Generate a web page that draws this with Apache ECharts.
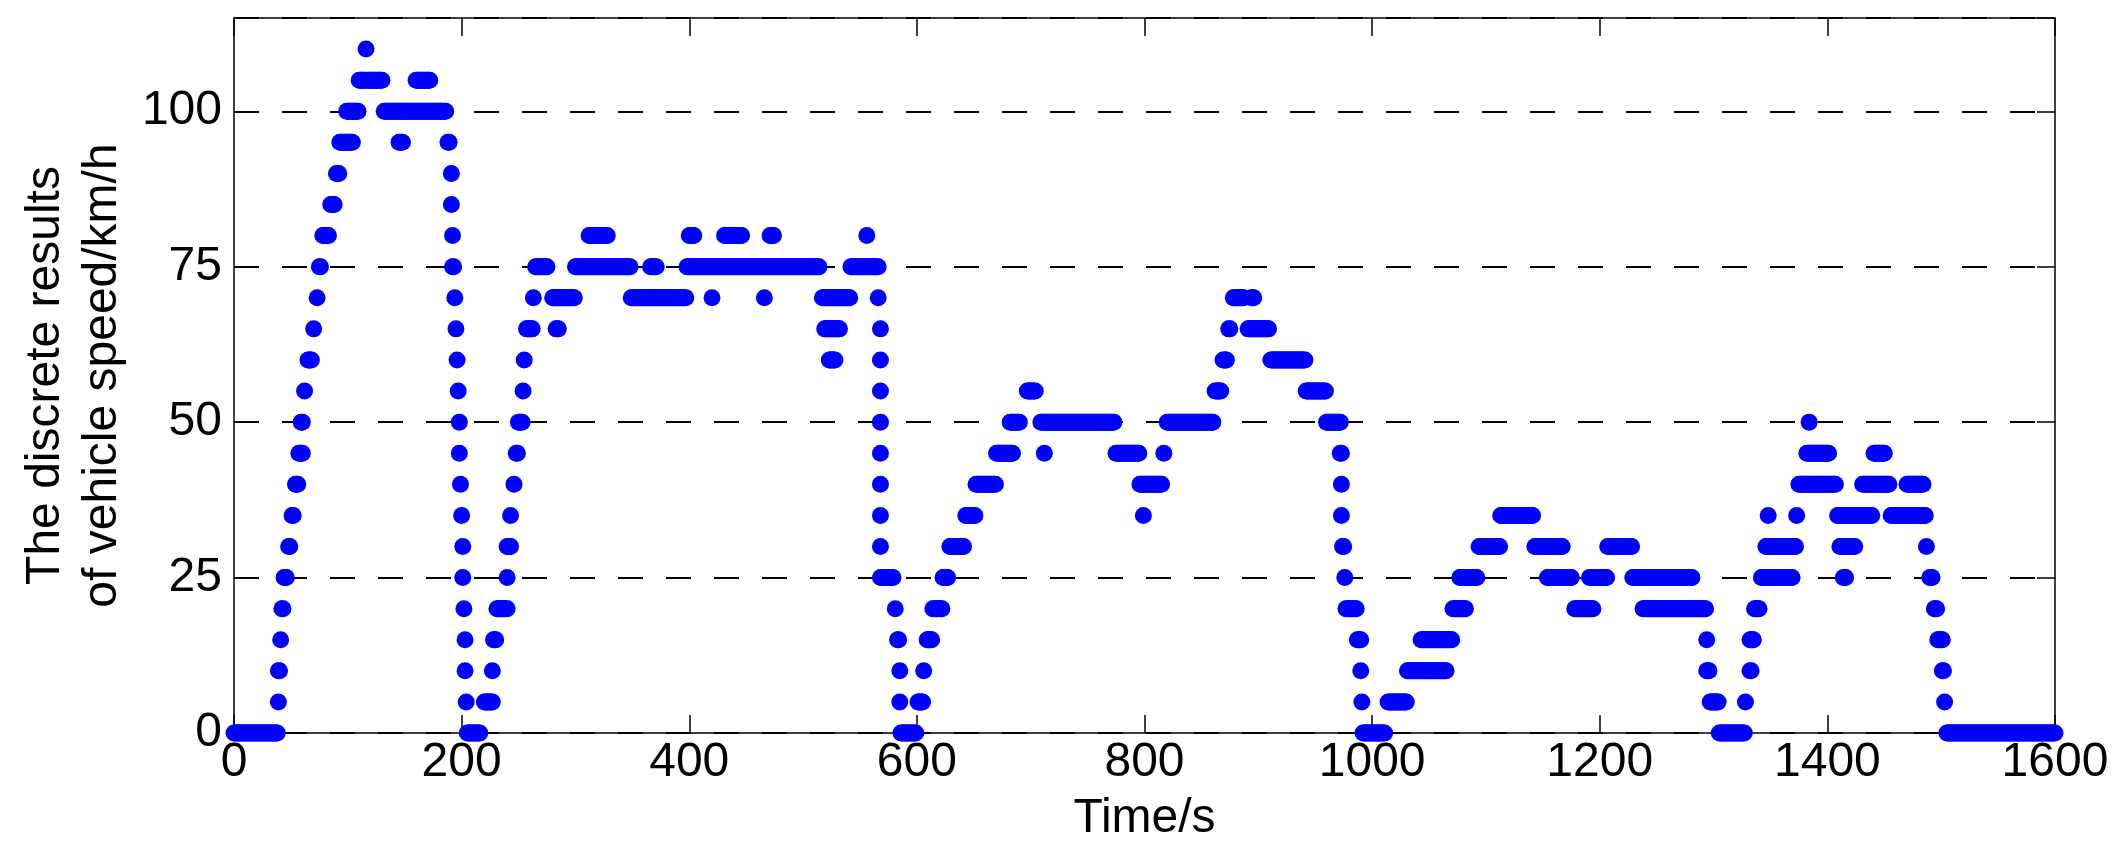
<!DOCTYPE html>
<html>
<head>
<meta charset="utf-8">
<script src="https://cdn.jsdelivr.net/npm/echarts@6/dist/echarts.min.js"></script>
<style>
html,body{margin:0;padding:0;background:#fff;}
#chart{width:2117px;height:859px;}
</style>
</head>
<body>
<div id="chart"></div>
<script>
// Runs of constant discrete speed (1 s sampling)
const runStart = [0,39,39,41,42,44,48,51,54,57,59,62,65,70,73,75,78,85,90,93,99,110,116,117,132,145,160,188,191,191,192,192,194,195,196,197,198,198,199,200,201,201,202,203,203,204,205,220,227,228,231,240,240,243,246,248,250,254,255,257,263,265,280,283,300,312,349,366,398,400,420,431,466,471,517,519,523,542,556,566,568,568,568,568,568,568,568,568,568,581,583,585,585,586,601,606,609,614,623,629,643,652,670,682,697,709,712,775,796,799,817,820,862,869,874,878,891,894,911,942,960,972,973,973,974,976,977,987,990,991,992,1014,1031,1043,1071,1077,1094,1113,1143,1154,1178,1191,1207,1229,1238,1294,1294,1297,1305,1328,1332,1332,1336,1342,1346,1348,1373,1375,1382,1384,1409,1411,1414,1431,1441,1456,1470,1487,1490,1494,1497,1501,1503,1505];
const runEnd   = [38,39,40,41,43,46,49,52,56,60,60,62,68,70,73,76,83,88,92,104,109,115,116,130,186,148,172,189,191,191,192,193,194,195,196,197,198,198,199,200,201,201,202,203,203,204,216,227,227,230,240,240,243,243,246,249,253,254,255,262,263,275,299,285,348,328,397,371,514,404,420,446,466,474,541,532,528,566,556,566,568,568,568,568,568,568,568,568,579,581,584,585,585,599,605,606,613,622,627,641,651,669,684,690,704,773,712,795,815,799,817,860,867,872,875,887,909,896,941,959,972,973,973,973,975,976,986,990,990,991,1011,1030,1065,1070,1082,1092,1112,1141,1167,1175,1194,1206,1228,1281,1293,1294,1296,1304,1327,1328,1333,1335,1340,1369,1372,1348,1373,1407,1401,1384,1439,1424,1416,1454,1450,1486,1484,1487,1492,1496,1501,1502,1503,1600];
const runSpeed = [0,5,10,15,20,25,30,35,40,45,50,55,60,65,70,75,80,85,90,95,100,105,110,105,100,95,105,95,90,85,80,75,70,65,60,55,50,45,40,35,30,25,20,15,10,5,0,5,10,15,20,25,30,35,40,45,50,55,60,65,70,75,70,65,75,80,70,75,75,80,70,80,70,80,70,65,60,75,80,70,65,60,55,50,45,40,35,30,25,20,15,10,5,0,5,10,15,20,25,30,35,40,45,50,55,50,45,45,40,35,45,50,55,60,65,70,65,70,60,55,50,45,40,35,30,25,20,15,10,5,0,5,10,15,20,25,30,35,30,25,20,25,30,25,20,15,10,5,0,5,10,15,20,25,30,35,35,40,45,50,35,30,25,40,45,35,40,30,25,20,15,10,5,0];

const xTicks = {min: 0, max: 1600, interval: 200};
const yTicks = {min: 0, max: 115, interval: 25};
const xName = 'Time/s';
const yName = 'The discrete results\nof vehicle speed/km/h';

const points = [];
for (let i = 0; i < runStart.length; i++) {
  for (let t = runStart[i]; t <= runEnd[i]; t++) points.push([t, runSpeed[i]]);
}

const FONT = 'Liberation Sans, Arial, Helvetica, sans-serif';
const axisLine = {show: true, onZero: false, lineStyle: {color: '#000', width: 1.5}};
const axisTick = {show: true, inside: true, length: 18, lineStyle: {color: '#000', width: 1.5}};
const plain = v => String(v);

const chart = echarts.init(document.getElementById('chart'), null, {renderer: 'canvas'});
chart.setOption({
  animation: false,
  backgroundColor: '#fff',
  grid: {left: 234, right: 62, top: 18, bottom: 126, containLabel: false},
  xAxis: [
    Object.assign({type: 'value', position: 'bottom', axisLine, axisTick,
      axisLabel: {fontSize: 48, color: '#000', fontFamily: FONT, margin: 6, formatter: plain},
      splitLine: {show: false},
      name: xName, nameLocation: 'middle', nameGap: 62,
      nameTextStyle: {fontSize: 48, color: '#000', fontFamily: FONT}}, xTicks),
    Object.assign({type: 'value', position: 'top', axisLine, axisTick,
      axisLabel: {show: false}, splitLine: {show: false}}, xTicks)
  ],
  yAxis: [
    Object.assign({type: 'value', position: 'left', axisLine, axisTick,
      axisLabel: {fontSize: 48, color: '#000', fontFamily: FONT, margin: 12, showMaxLabel: false, formatter: plain},
      splitLine: {show: true, lineStyle: {color: '#000', width: 2, type: [25, 23]}},
      name: yName, nameLocation: 'middle', nameGap: 103,
      nameTextStyle: {fontSize: 48, color: '#000', fontFamily: FONT, lineHeight: 57}}, yTicks),
    Object.assign({type: 'value', position: 'right', axisLine, axisTick,
      axisLabel: {show: false}, splitLine: {show: false}}, yTicks)
  ],
  series: [{
    type: 'scatter',
    xAxisIndex: 0, yAxisIndex: 0,
    data: points,
    symbol: 'circle',
    symbolSize: 17,
    large: false,
    clip: false,
    itemStyle: {color: '#0000FF', opacity: 1},
    emphasis: {disabled: true}
  }]
});
</script>
</body>
</html>
